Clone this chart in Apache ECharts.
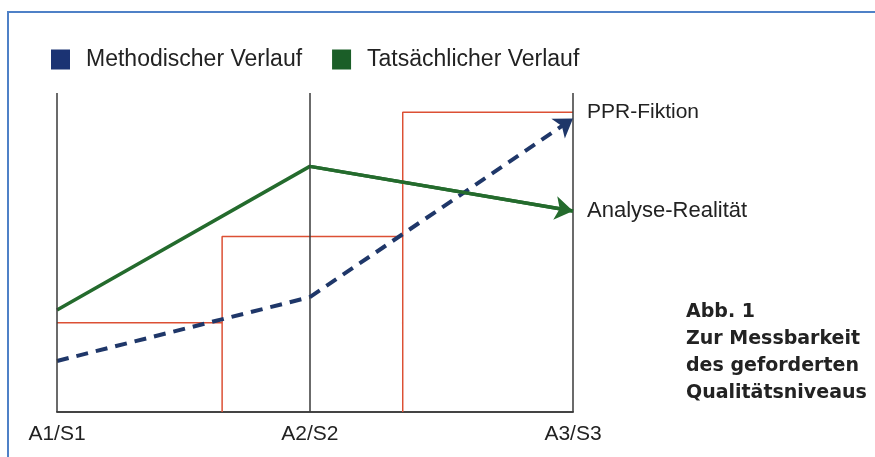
<!DOCTYPE html>
<html>
<head>
<meta charset="utf-8">
<script src="https://cdn.jsdelivr.net/npm/echarts@6/dist/echarts.min.js"></script>
<style>
  html, body { margin: 0; padding: 0; background: #fff; }
  #chart { width: 875px; height: 457px; }
</style>
</head>
<body>
<div id="chart"></div>
<script>
// stages on the x axis (0..100 across the plot)
const stageLabels = ['A1/S1', 'A2/S2', 'A3/S3']
const stageX = [0, 49, 100]

// red step outline (PPR-Fiktion)
const stepX = [0, 32, 67, 100]
const stepY = [28, 55, 94]

// Methodischer Verlauf (dashed blue) and Tatsächlicher Verlauf (green)
const methodY = [16, 36, 92]
const actualY = [32, 77, 63]

const captionLines = ['Abb. 1', 'Zur Messbarkeit', 'des geforderten', 'Qualitätsniveaus']

const BLUE = '#1f3769'
const GREEN = '#246b2d'
const RED = '#dc5034'
const FONT = 'Liberation Sans, Arial, sans-serif'

const chart = echarts.init(document.getElementById('chart'))

// step outline: each level goes across, then drops back to the base line
const stepPoints = []
for (let i = 0; i < stepY.length; i++) {
  stepPoints.push([stepX[i], stepY[i]], [stepX[i + 1], stepY[i]])
  if (i < stepY.length - 1) stepPoints.push([stepX[i + 1], 0])
}

const methodPoints = stageX.map((x, i) => [x, methodY[i]])
const actualPoints = stageX.map((x, i) => [x, actualY[i]])

const option = {
  animation: false,
  backgroundColor: '#fff',
  title: {
    text: captionLines.join('\n'),
    left: 686,
    top: 299,
    padding: 0,
    textStyle: {
      fontFamily: 'DejaVu Sans, sans-serif',
      fontWeight: 'bold',
      fontSize: 19,
      lineHeight: 27,
      color: '#222',
    },
  },
  legend: {
    left: 51,
    top: 48,
    padding: 0,
    icon: 'rect',
    itemWidth: 19,
    itemHeight: 20,
    itemGap: 30,
    itemStyle: { borderWidth: 0 },
    textStyle: {
      fontFamily: FONT,
      fontSize: 23,
      color: '#222',
      padding: [0, 0, 0, 11],
    },
    data: [
      { name: 'Methodischer Verlauf', itemStyle: { color: '#1b3373' } },
      { name: 'Tatsächlicher Verlauf', itemStyle: { color: '#1b5e28' } },
    ],
  },
  graphic: [
    {
      type: 'rect',
      shape: { x: 8, y: 12, width: 900, height: 500 },
      style: { fill: 'none', stroke: '#4f81c7', lineWidth: 2 },
      silent: true,
    },
  ],
  grid: { left: 57, right: 302, top: 93, bottom: 45 },
  xAxis: {
    type: 'value',
    min: 0,
    max: 100,
    axisLine: { show: true, lineStyle: { color: '#444', width: 2 } },
    axisTick: { show: false },
    splitLine: { show: false },
    axisLabel: {
      customValues: stageX,
      formatter: (v) => stageLabels[stageX.indexOf(v)] || '',
      margin: 12,
      fontFamily: FONT,
      fontSize: 21,
      color: '#222',
      showMinLabel: true,
      showMaxLabel: true,
    },
  },
  yAxis: {
    type: 'value',
    min: 0,
    max: 100,
    axisLine: { show: false },
    axisTick: { show: false },
    axisLabel: { show: false },
    splitLine: { show: false },
  },
  series: [
    {
      name: 'PPR',
      type: 'line',
      data: stepPoints,
      symbol: 'none',
      silent: true,
      lineStyle: { color: RED, width: 1.5 },
      endLabel: {
        show: true,
        formatter: 'PPR-Fiktion',
        distance: 14,
        fontFamily: FONT,
        fontSize: 21,
        color: '#222',
      },
      markLine: {
        silent: true,
        symbol: 'none',
        label: { show: false },
        lineStyle: { color: '#3a3a3a', width: 1.5, type: 'solid' },
        data: stageX.map((x) => ({ xAxis: x })),
      },
      z: 1,
    },
    {
      name: 'Methodischer Verlauf',
      type: 'line',
      data: methodPoints.slice(0, 2),
      symbol: 'none',
      silent: true,
      itemStyle: { color: BLUE },
      lineStyle: { color: BLUE, width: 4, type: [12, 8] },
      markLine: {
        silent: true,
        symbol: ['none', 'arrow'],
        symbolSize: 18,
        label: { show: false },
        lineStyle: { color: BLUE, width: 4, type: [12, 8] },
        data: [[{ coord: methodPoints[1] }, { coord: methodPoints[2] }]],
      },
      z: 2,
    },
    {
      name: 'Tatsächlicher Verlauf',
      type: 'line',
      data: actualPoints,
      symbol: 'none',
      silent: true,
      itemStyle: { color: GREEN },
      lineStyle: { color: GREEN, width: 3.5 },
      endLabel: {
        show: true,
        formatter: 'Analyse-Realität',
        distance: 14,
        fontFamily: FONT,
        fontSize: 22,
        color: '#222',
      },
      markLine: {
        silent: true,
        symbol: ['none', 'arrow'],
        symbolSize: 18,
        label: { show: false },
        lineStyle: { color: GREEN, width: 3.5, type: 'solid' },
        data: [[{ coord: actualPoints[1] }, { coord: actualPoints[2] }]],
      },
      z: 3,
    },
  ],
}

chart.setOption(option)
</script>
</body>
</html>
